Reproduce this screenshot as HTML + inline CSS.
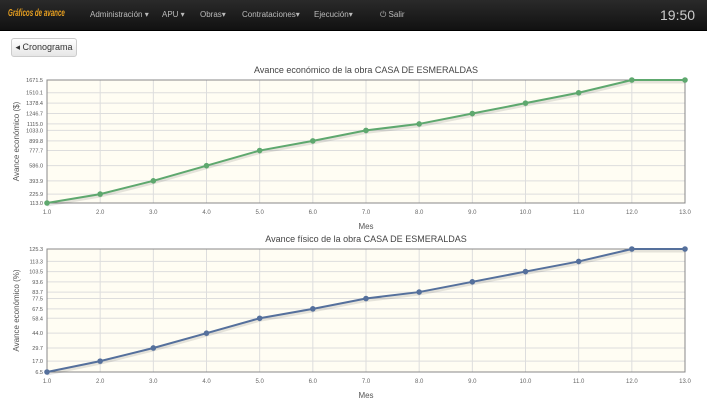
<!DOCTYPE html>
<html><head><meta charset="utf-8"><style>
body{margin:0;width:707px;height:416px;overflow:hidden;background:#fff;font-family:"Liberation Sans",sans-serif;position:relative}
#nav{position:absolute;left:0;top:0;width:707px;height:30px;background:linear-gradient(#2a2a2a,#111);border-bottom:1px solid #000}
#nav span{position:absolute;top:10px;font-size:8px;color:#bbb;white-space:nowrap}
#btn{position:absolute;left:11px;top:38px;width:64px;height:17px;border:1px solid #ccc;border-radius:3px;background:linear-gradient(#fff,#e6e6e6);font-size:9px;color:#333;line-height:17px;text-align:center}
svg{position:absolute;left:0;top:0}
</style></head><body>
<div id="nav">
<span style="left:8px;top:8px;color:#e8a020;font-weight:bold;font-style:italic;font-size:10px;transform:scaleX(0.62);transform-origin:left center">Gráficos de avance</span>
<span style="left:90px">Administración ▾</span>
<span style="left:162px">APU ▾</span>
<span style="left:200px">Obras▾</span>
<span style="left:242px">Contrataciones▾</span>
<span style="left:314px">Ejecución▾</span>
<span style="left:380px">⏻ Salir</span>
<span style="left:660px;top:7px;font-size:14px;color:#ccc">19:50</span>
</div>
<div id="btn">◂ Cronograma</div>
<svg id="s" width="707" height="416"></svg>
<script>
const months=[1,2,3,4,5,6,7,8,9,10,11,12,13];
const econValues=[113.0,225.9,393.9,586.0,777.7,899.8,1033.0,1115.0,1246.7,1378.4,1510.1,1671.5,1671.5];
const econTicks=[113.0,225.9,393.9,586.0,777.7,899.8,1033.0,1115.0,1246.7,1378.4,1510.1,1671.5];
const fisValues=[6.5,17.0,29.7,44.0,58.4,67.5,77.5,83.7,93.6,103.5,113.3,125.3,125.3];
const fisTicks=[6.5,17.0,29.7,44.0,58.4,67.5,77.5,83.7,93.6,103.5,113.3,125.3];
const xTicks=[1,2,3,4,5,6,7,8,9,10,11,12,13];
const svg=document.getElementById('s');const NS='http://www.w3.org/2000/svg';
function mk(t,a,txt){const e=document.createElementNS(NS,t);for(const k in a)e.setAttribute(k,a[k]);if(txt!==undefined)e.textContent=txt;svg.appendChild(e);return e;}
function chart(cfg){
 const L=47,R=685,T=cfg.top,B=cfg.top+123;
 const ymin=cfg.ticks[0],ymax=cfg.ticks[cfg.ticks.length-1];
 const x=v=>L+(v-1)/12*(R-L);
 const y=v=>B-(v-ymin)/(ymax-ymin)*(B-T);
 let t=mk('text',{x:366,y:T-7,'font-size':9,'text-anchor':'middle',fill:'#444'},cfg.title);
 
 let bg=mk('rect',{x:L,y:T,width:R-L,height:B-T,fill:'#fffdf3',stroke:'#999','stroke-width':1});
 
 xTicks.forEach(v=>{const g=mk('line',{x1:x(v),x2:x(v),y1:T,y2:B,stroke:'#ddd'});
  const l=mk('text',{x:x(v),y:B+11,'font-size':6,'text-anchor':'middle',fill:'#666'},v.toFixed(1));});
 cfg.ticks.forEach(v=>{const g=mk('line',{x1:L,x2:R,y1:y(v),y2:y(v),stroke:'#ddd'});
  const l=mk('text',{x:L-4,y:y(v)+2,'font-size':5.5,'text-anchor':'end',fill:'#555'},v.toFixed(1));});
 mk('rect',{x:L,y:T,width:R-L,height:B-T,fill:'none',stroke:'#888','stroke-width':1});
 const pts=months.map((m,i)=>x(m)+','+y(cfg.values[i])).join(' ');
 mk('polyline',{points:months.map((m,i)=>x(m)+','+(y(cfg.values[i])+2)).join(' '),fill:'none',stroke:'rgba(0,0,0,0.1)','stroke-width':3});
 const pl=mk('polyline',{points:pts,fill:'none',stroke:cfg.color,'stroke-width':2});
 
 months.forEach((m,i)=>{const c=mk('circle',{cx:x(m),cy:y(cfg.values[i]),r:2.8,fill:cfg.color});});
 const xl=mk('text',{x:366,y:B+26,'font-size':8,'text-anchor':'middle',fill:'#555'},'Mes');
 const yl=mk('text',{x:0,y:0,'font-size':8,'text-anchor':'middle',fill:'#555',transform:'translate(19,'+((T+B)/2)+') rotate(-90)'},cfg.ylabel);
}
chart({id:'economic-chart',top:80,ticks:econTicks,values:econValues,color:'#5ea86e',title:'Avance económico de la obra CASA DE ESMERALDAS',ylabel:'Avance económico ($)'});
chart({id:'physical-chart',top:249,ticks:fisTicks,values:fisValues,color:'#55709c',title:'Avance físico de la obra CASA DE ESMERALDAS',ylabel:'Avance económico (%)'});
</script>
</body></html>
